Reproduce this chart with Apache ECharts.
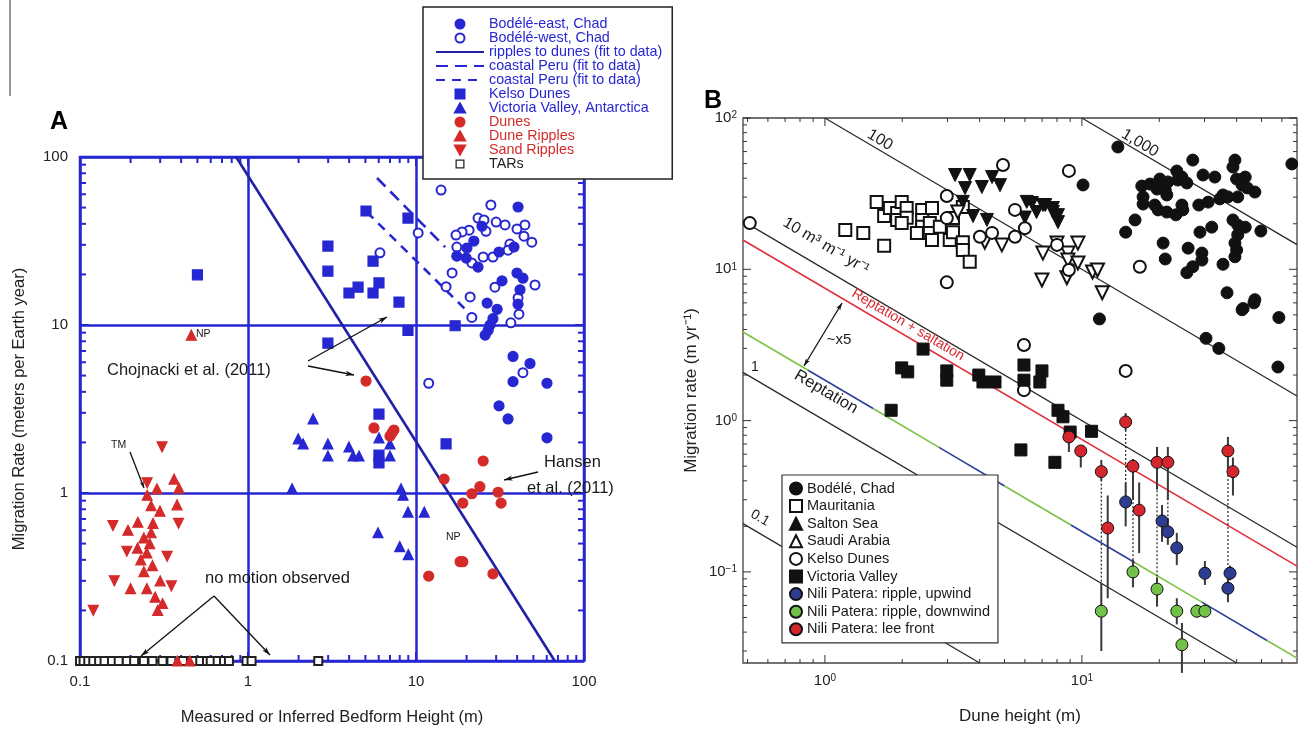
<!DOCTYPE html>
<html>
<head>
<meta charset="utf-8">
<script src="https://cdn.jsdelivr.net/npm/echarts@6/dist/echarts.min.js"></script>
<style>
html,body{margin:0;padding:0;background:#fff}
#main{width:1298px;height:729px}
</style>
</head>
<body>
<div id="main"></div>
<script>
// ---------- panel A (bedform height vs migration rate) ----------
const bodeleEast = [[40.5,50.4],[24.7,38.7],[22.1,31.6],[20.1,28.7],[17.5,25.7],[19.9,25.0],[23.4,22.1],[31.2,27.2],[38.3,29.1],[39.9,20.4],[43.3,19.0],[32.5,18.3],[41.6,16.2],[40.5,13.3],[26.5,13.5],[30.4,12.4],[28.7,10.9],[27.6,10.0],[26.9,9.3],[25.8,8.7],[37.8,6.5],[47.7,5.9],[37.8,4.6],[60.2,4.5],[31.2,3.3],[35.3,2.76],[60.2,2.13]];
const bodeleWest = [[14.1,63.6],[27.9,51.8],[23.4,43.3],[25.4,42.2],[30.0,41.0],[33.9,39.4],[44.5,39.4],[39.9,37.3],[20.7,36.7],[18.8,35.8],[26.1,36.1],[17.3,34.3],[43.9,33.8],[48.9,31.1],[36.2,30.3],[17.5,29.1],[35.3,27.9],[25.1,25.4],[28.7,25.4],[21.5,23.4],[10.3,35.3],[6.1,26.9],[16.4,20.4],[15.1,16.9],[21.0,14.7],[29.5,16.8],[40.5,14.5],[51.1,17.3],[21.5,11.1],[41.0,11.6],[36.7,10.3],[43.3,5.2],[11.9,4.5]];
const kelsoA = [[0.50,19.9],[2.99,29.5],[2.99,20.9],[2.99,7.8],[5.04,47.7],[8.96,43.3],[5.55,24.0],[3.99,15.5],[4.52,16.8],[5.55,15.5],[6.02,17.8],[7.92,13.7],[8.96,9.3],[17.1,9.9],[6.02,2.95],[6.02,1.51],[6.02,1.68],[15.1,1.96]];
const victoriaA = [[2.44,2.76],[1.99,2.10],[2.13,1.96],[2.99,1.96],[2.99,1.66],[1.83,1.06],[3.99,1.88],[4.22,1.66],[4.58,1.66],[6.02,2.13],[7.0,1.96],[7.0,1.66],[6.02,1.66],[8.14,1.06],[8.37,0.97],[8.96,0.77],[11.2,0.77],[5.94,0.58],[8.0,0.48],[9.0,0.43]];
const dunesA = [[5.04,4.64],[5.62,2.44],[7.0,2.18],[7.39,2.37],[7.2,2.28],[14.7,1.21],[25.1,1.55],[24.0,1.09],[21.5,0.99],[19.0,0.87],[30.8,1.01],[32.1,0.87],[11.9,0.32],[18.3,0.39],[19.0,0.39],[28.7,0.33]];
const duneRipples = [[0.46,8.7],[0.363,1.21],[0.388,1.07],[0.287,1.06],[0.251,0.97],[0.265,0.84],[0.299,0.78],[0.378,0.85],[0.221,0.67],[0.193,0.60],[0.272,0.66],[0.265,0.58],[0.24,0.54],[0.26,0.50],[0.22,0.47],[0.25,0.44],[0.23,0.40],[0.27,0.37],[0.24,0.34],[0.30,0.30],[0.25,0.27],[0.28,0.24],[0.31,0.22],[0.20,0.27],[0.29,0.20],[0.45,0.1],[0.38,0.1]];
const sandRipples = [[0.308,1.88],[0.157,0.64],[0.386,0.66],[0.251,1.15],[0.19,0.45],[0.33,0.42],[0.12,0.20],[0.16,0.30],[0.35,0.28]];
const tars = [[0.1,0.1],[0.105,0.1],[0.112,0.1],[0.12,0.1],[0.13,0.1],[0.14,0.1],[0.155,0.1],[0.17,0.1],[0.19,0.1],[0.21,0.1],[0.24,0.1],[0.27,0.1],[0.31,0.1],[0.35,0.1],[0.41,0.1],[0.47,0.1],[0.52,0.1],[0.57,0.1],[0.6,0.1],[0.66,0.1],[0.72,0.1],[0.77,0.1],[0.98,0.1],[1.05,0.1],[2.62,0.1]];
const ripplesToDunes = [[0.85,100],[67,0.1]];
const peruFit1 = [[5.86,75],[14.9,29.1]];
const peruFit2 = [[5.1,47],[21.8,11.2]];

// ---------- panel B (dune height vs migration rate) ----------
const bodeleB = [[13.8,64.3],[27.0,52.7],[39.4,52.7],[38.7,47.4],[23.4,44.6],[29.6,42.0],[32.9,40.7],[24.5,40.7],[25.6,37.2],[23.6,38.9],[40.0,39.5],[43.2,40.7],[42.0,36.1],[47.1,32.4],[44.0,34.5],[17.1,35.5],[18.4,36.6],[20.1,39.5],[21.6,37.8],[21.1,33.4],[19.6,33.9],[21.4,31.0],[17.3,30.1],[17.3,27.0],[19.2,26.6],[19.8,24.7],[21.4,23.9],[23.2,22.9],[24.7,24.7],[24.5,26.6],[28.5,26.6],[31.0,27.8],[34.4,29.2],[37.0,30.1],[40.4,30.1],[35.4,31.0],[16.1,21.2],[14.8,17.6],[32.0,19.0],[28.8,17.6],[38.7,21.2],[40.4,19.6],[43.2,19.0],[40.4,16.9],[49.7,17.9],[20.7,14.9],[39.4,14.9],[40.0,13.4],[39.4,12.1],[25.9,13.8],[29.3,12.8],[29.3,11.5],[21.1,11.7],[27.0,10.4],[25.6,9.5],[35.4,10.8],[36.7,7.0],[47.1,6.3],[42.4,5.5],[10.1,36.1],[11.7,4.7],[42.0,5.4],[46.7,6.0],[58.4,4.8],[30.4,3.5],[34.1,3.0],[57.9,2.26],[65.6,49.7]];
const mauritania = [[1.59,27.9],[1.20,18.2],[1.41,17.4],[1.70,14.3],[1.70,22.5],[1.79,25.4],[1.91,23.6],[1.99,27.9],[2.08,25.4],[1.91,21.2],[2.08,21.9],[1.99,20.2],[2.39,24.7],[2.61,25.4],[2.39,21.2],[2.39,19.1],[2.56,20.2],[2.28,17.4],[2.56,17.4],[2.80,19.1],[2.61,15.6],[3.06,15.6],[3.15,17.6],[3.44,15.1],[3.44,13.4],[3.66,11.2],[3.44,25.8],[3.15,21.8]];
const saltonSea = [[3.21,42.0],[3.66,42.0],[4.47,40.7],[3.51,34.4],[4.08,35.0],[3.44,27.9],[3.77,22.5],[4.27,21.2],[4.80,36.0],[6.39,27.4],[6.1,27.9],[7.05,26.6],[6.66,23.9],[6.0,22.0],[7.71,23.9],[8.07,22.8],[8.07,20.5],[7.71,25.4],[7.2,26.6]];
const saudiArabia = [[4.88,14.5],[7.05,12.8],[8.0,14.9],[8.82,12.8],[9.65,14.9],[8.82,11.5],[9.65,11.0],[6.99,8.5],[8.74,8.8],[11.0,9.6],[11.5,9.9],[12.0,7.0],[3.29,23.9],[4.19,15.1]];
const kelsoB = [[0.51,20.2],[2.98,30.5],[2.98,8.2],[2.98,21.8],[4.01,16.4],[4.47,17.4],[4.93,48.9],[8.9,44.7],[5.49,24.7],[6.0,18.7],[5.49,16.4],[8.0,14.5],[8.9,9.9],[16.8,10.4],[5.95,3.16],[5.95,1.59],[14.8,2.13]];
const victoriaB = [[2.41,2.97],[1.99,2.23],[2.10,2.10],[2.98,2.13],[2.98,1.85],[3.97,2.0],[4.12,1.80],[4.59,1.80],[1.81,1.17],[5.95,2.33],[5.95,1.85],[6.99,2.13],[6.86,1.80],[8.07,1.17],[8.44,1.06],[9.0,0.84],[10.9,0.85],[5.79,0.64],[7.85,0.53]];
// Nili Patera: [height, rate, low, high]
const niliUpwind = [[14.8,0.29,0.20,0.39],[20.5,0.217,0.158,0.277],[21.6,0.184,0.151,0.227],[23.4,0.144,0.111,0.181],[30.1,0.098,0.082,0.118],[37.7,0.098,0.088,0.11],[37.0,0.078,0.063,0.092]];
const niliDownwind = [[11.9,0.055,0.030,0.085],[15.8,0.10,0.079,0.12],[19.6,0.077,0.059,0.092],[23.4,0.055,0.045,0.067],[28.0,0.055,0.050,0.061],[30.1,0.055,0.050,0.061],[24.5,0.033,0.0215,0.046]];
const niliLee = [[14.8,0.98,0.86,1.12],[8.9,0.78,0.62,0.87],[9.9,0.63,0.49,0.67],[11.9,0.46,0.40,0.55],[15.8,0.50,0.30,0.557],[19.6,0.53,0.35,0.67],[21.6,0.53,0.30,0.67],[37.0,0.63,0.49,0.78],[38.7,0.46,0.32,0.57],[12.6,0.195,0.067,0.32],[16.7,0.256,0.133,0.39]];
// dotted links between the Nili Patera estimates: [height, top, bottom]
const niliLinks = [[11.9,0.46,0.055],[14.8,0.98,0.29],[15.8,0.50,0.10],[19.6,0.53,0.077],[21.6,0.53,0.184],[37.0,0.63,0.078]];
// constant-flux lines q (m3 m-1 yr-1), rate = q / H
const fluxLines = [0.1, 1, 10, 100, 1000];
const qSaltation = 7.5;
const qReptation = 1.85;
const reptBreaks = [0.86, 1.54, 2.78, 5.0, 9.06, 16.1, 29.3, 52.5];

const rangeAx = [0.1, 100], rangeAy = [0.1, 100];
const rangeBx = [0.48, 68.7], rangeBy = [0.025, 100];

const BLUE = '#2626d2', RED = '#d42a2a', FONT = 'Liberation Sans, Arial, Helvetica, sans-serif';

function minorVals(lo, hi) {
  const out = [];
  for (let e = Math.floor(Math.log10(lo)); e <= Math.ceil(Math.log10(hi)); e++) {
    for (let m = 2; m <= 9; m++) {
      const v = m * Math.pow(10, e);
      if (v > lo * 1.0001 && v < hi * 0.9999) out.push(v);
    }
  }
  return out;
}
function majorVals(lo, hi) {
  const out = [];
  for (let e = Math.ceil(Math.log10(lo) - 1e-9); e <= Math.floor(Math.log10(hi) + 1e-9); e++) out.push(Math.pow(10, e));
  return out;
}

// inward ticks on all four sides of a log-log grid
function tickSeries(gi, xr, yr, color, lw, majLen, minLen) {
  const xs = minorVals(xr[0], xr[1]).map(v => [v, minLen]).concat(majorVals(xr[0], xr[1]).map(v => [v, majLen]));
  const ys = minorVals(yr[0], yr[1]).map(v => [minLen, v]).concat(majorVals(yr[0], yr[1]).map(v => [majLen, v]));
  const st = { stroke: color, lineWidth: lw };
  return [{
    type: 'custom', xAxisIndex: gi, yAxisIndex: gi, silent: true, clip: false, z: 3,
    data: xs,
    renderItem: (p, api) => {
      const v = api.value(0), len = api.value(1);
      const b = api.coord([v, yr[0]]), t = api.coord([v, yr[1]]);
      return { type: 'group', children: [
        { type: 'line', shape: { x1: b[0], y1: b[1], x2: b[0], y2: b[1] - len }, style: st },
        { type: 'line', shape: { x1: t[0], y1: t[1], x2: t[0], y2: t[1] + len }, style: st }
      ] };
    }
  }, {
    type: 'custom', xAxisIndex: gi, yAxisIndex: gi, silent: true, clip: false, z: 3,
    data: ys,
    renderItem: (p, api) => {
      const len = api.value(0), v = api.value(1);
      const l = api.coord([xr[0], v]), r = api.coord([xr[1], v]);
      return { type: 'group', children: [
        { type: 'line', shape: { x1: l[0], y1: l[1], x2: l[0] + len, y2: l[1] }, style: st },
        { type: 'line', shape: { x1: r[0], y1: r[1], x2: r[0] - len, y2: r[1] }, style: st }
      ] };
    }
  }];
}

function scatterA(name, data, symbol, color, size, extra) {
  return Object.assign({
    name, type: 'scatter', xAxisIndex: 0, yAxisIndex: 0, data, symbol, symbolSize: size, clip: false, z: 4,
    itemStyle: { color, opacity: 1, borderColor: color, borderWidth: 1.2 }
  }, extra || {});
}
function scatterB(name, data, symbol, color, size, extra) {
  return Object.assign({
    name, type: 'scatter', xAxisIndex: 1, yAxisIndex: 1, data, symbol, symbolSize: size, clip: false, z: 4,
    itemStyle: { color, opacity: 1, borderColor: '#111', borderWidth: 1 }
  }, extra || {});
}
function lineB(q, color, x0, x1, width) {
  return {
    type: 'line', xAxisIndex: 1, yAxisIndex: 1, symbol: 'none', silent: true, z: 2,
    data: [[x0, q / x0], [x1, q / x1]],
    lineStyle: { color, width: width || 1.3 }
  };
}
function nili(name, pts, color) {
  return [{
    type: 'custom', xAxisIndex: 1, yAxisIndex: 1, silent: true, clip: false, z: 3,
    data: pts.map(p => [p[0], p[1], p[2], p[3]]),
    renderItem: (p, api) => {
      const a = api.coord([api.value(0), api.value(2)]), b = api.coord([api.value(0), api.value(3)]);
      return { type: 'line', shape: { x1: a[0], y1: a[1], x2: b[0], y2: b[1] }, style: { stroke: '#3a3a3a', lineWidth: 2 } };
    }
  }, scatterB(name, pts.map(p => [p[0], p[1]]), 'circle', color, 12, { z: 5 })];
}

const series = [];
// panel A
series.push(...tickSeries(0, rangeAx, rangeAy, BLUE, 2, 9, 6));
series.push({ name: 'ripples to dunes (fit to data)', type: 'line', xAxisIndex: 0, yAxisIndex: 0, symbol: 'none', data: ripplesToDunes, itemStyle: { color: '#2121a6' }, lineStyle: { color: '#2121a6', width: 2.6 }, z: 3 });
series.push({ name: 'coastal Peru (fit to data)', type: 'line', xAxisIndex: 0, yAxisIndex: 0, symbol: 'none', data: peruFit1, itemStyle: { color: BLUE }, lineStyle: { color: BLUE, width: 2.6, type: [12, 7] }, z: 3 });
series.push({ name: 'coastal Peru (fit to data) ', type: 'line', xAxisIndex: 0, yAxisIndex: 0, symbol: 'none', data: peruFit2, itemStyle: { color: BLUE }, lineStyle: { color: BLUE, width: 2.6, type: [9, 7] }, z: 3 });
series.push(scatterA('TARs', tars, 'emptyRect', '#222', 8, { itemStyle: { color: '#222', opacity: 1, borderColor: '#222', borderWidth: 1.3 } }));
series.push(scatterA('Bodélé-west, Chad', bodeleWest, 'emptyCircle', BLUE, 9, { itemStyle: { color: BLUE, opacity: 1, borderColor: BLUE, borderWidth: 1.3 } }));
series.push(scatterA('Bodélé-east, Chad', bodeleEast, 'circle', BLUE, 10));
series.push(scatterA('Kelso Dunes', kelsoA, 'rect', BLUE, 10));
series.push(scatterA('Victoria Valley, Antarctica', victoriaA, 'triangle', BLUE, 10));
series.push(scatterA('Dunes', dunesA, 'circle', RED, 10));
series.push(scatterA('Dune Ripples', duneRipples, 'triangle', RED, 10));
series.push(scatterA('Sand Ripples', sandRipples, 'triangle', RED, 10, { symbolRotate: 180 }));

// panel B
series.push(...tickSeries(1, rangeBx, rangeBy, '#333', 1, 8, 4));
fluxLines.forEach(q => {
  const x0 = Math.max(rangeBx[0], q / rangeBy[1]);
  const x1 = Math.min(rangeBx[1], q / rangeBy[0]);
  series.push(lineB(q, '#2a2a2a', x0, x1, 1.3));
});
series.push(lineB(qSaltation, '#e0303c', rangeBx[0], rangeBx[1], 1.6));
const bounds = [rangeBx[0]].concat(reptBreaks, [rangeBx[1]]);
for (let i = 0; i < bounds.length - 1; i++) {
  series.push(lineB(qReptation, i % 2 === 0 ? '#7cc243' : '#2e3f99', bounds[i], bounds[i + 1], 1.6));
}
series.push({
  type: 'custom', xAxisIndex: 1, yAxisIndex: 1, silent: true, clip: false, z: 3,
  data: niliLinks,
  renderItem: (p, api) => {
    const a = api.coord([api.value(0), api.value(1)]), b = api.coord([api.value(0), api.value(2)]);
    return { type: 'line', shape: { x1: a[0], y1: a[1], x2: b[0], y2: b[1] }, style: { stroke: '#222', lineWidth: 1.2, lineDash: [2, 2] } };
  }
});
series.push(scatterB('Bodélé, Chad', bodeleB, 'circle', '#111', 12));
series.push(scatterB('Mauritania', mauritania, 'emptyRect', '#111', 12, { itemStyle: { color: '#111', opacity: 1, borderColor: '#111', borderWidth: 1 } }));
series.push(scatterB('Salton Sea', saltonSea, 'triangle', '#111', 13, { symbolRotate: 180 }));
series.push(scatterB('Saudi Arabia', saudiArabia, 'emptyTriangle', '#111', 13, { symbolRotate: 180, itemStyle: { color: '#111', opacity: 1, borderColor: '#111', borderWidth: 1 } }));
series.push(scatterB('Kelso Dunes\u200b', kelsoB, 'emptyCircle', '#111', 12, { itemStyle: { color: '#111', opacity: 1, borderColor: '#111', borderWidth: 1 } }));
series.push(scatterB('Victoria Valley', victoriaB, 'rect', '#111', 12));
series.push(...nili('Nili Patera: ripple, upwind', niliUpwind, '#2c3d92'));
series.push(...nili('Nili Patera: ripple, downwind', niliDownwind, '#72c148'));
series.push(...nili('Nili Patera: lee front', niliLee, '#d6262d'));

// legend icons as paths so they keep their aspect inside the wide item box
const ICON_RECT = 'path://M0,0H10V10H0Z';
const ICON_UP = 'path://M5,0L10,9L0,9Z';
const ICON_DOWN = 'path://M0,0L10,0L5,9Z';
const ICON_OPENRECT = 'path://M0,0H10V1.4H0Z M0,8.6H10V10H0Z M0,0H1.4V10H0Z M8.6,0H10V10H8.6Z';
const legendA = [
  ['Bodélé-east, Chad', BLUE, 'circle'], ['Bodélé-west, Chad', BLUE, 'emptyCircle'], ['ripples to dunes (fit to data)', BLUE, null],
  ['coastal Peru (fit to data)', BLUE, null], ['coastal Peru (fit to data) ', BLUE, null], ['Kelso Dunes', BLUE, ICON_RECT],
  ['Victoria Valley, Antarctica', BLUE, ICON_UP], ['Dunes', RED, 'circle'], ['Dune Ripples', RED, ICON_UP],
  ['Sand Ripples', RED, ICON_DOWN], ['TARs', '#222', ICON_OPENRECT]
];
const legendB = ['Bodélé, Chad', 'Mauritania', 'Salton Sea', 'Saudi Arabia', 'Kelso Dunes\u200b', 'Victoria Valley',
  'Nili Patera: ripple, upwind', 'Nili Patera: ripple, downwind', 'Nili Patera: lee front'];

// annotation helpers (pixel space)
function arrow(x1, y1, x2, y2, head, color, both) {
  const c = color || '#111', h = head || 9;
  const out = [{ type: 'line', shape: { x1, y1, x2, y2 }, style: { stroke: c, lineWidth: 1.3 }, z: 10 }];
  const mk = (ax, ay, bx, by) => {
    const a = Math.atan2(by - ay, bx - ax);
    return { type: 'polygon', z: 10, shape: { points: [[bx, by],
      [bx - h * Math.cos(a - 0.3), by - h * Math.sin(a - 0.3)],
      [bx - h * 0.7 * Math.cos(a), by - h * 0.7 * Math.sin(a)],
      [bx - h * Math.cos(a + 0.3), by - h * Math.sin(a + 0.3)]] }, style: { fill: c } };
  };
  out.push(mk(x1, y1, x2, y2));
  if (both) out.push(mk(x2, y2, x1, y1));
  return out;
}
function txt(text, x, y, size, opts) {
  return Object.assign({ type: 'text', x, y, z: 10, style: Object.assign({ text, fontSize: size, fontFamily: FONT, fill: '#1a1a1a', align: 'left', verticalAlign: 'middle' }, (opts && opts.style) || {}) }, opts && opts.rot !== undefined ? { rotation: opts.rot } : {});
}
const ROT = -Math.atan(151.3 / 257);
const supRich = { b: { fontSize: 15, fontFamily: FONT, color: '#222' }, s: { fontSize: 10, fontFamily: FONT, color: '#222', verticalAlign: 'top', lineHeight: 10, padding: [0, 0, 6, 0] } };
const powLabel = v => '{b|10}{s|' + String(Math.round(Math.log10(v))).replace('-', '\u2212') + '}';

const option = {
  backgroundColor: '#fff',
  animation: false,
  textStyle: { fontFamily: FONT },
  grid: [
    { left: 80, top: 157, width: 504, height: 504, show: true, borderColor: BLUE, borderWidth: 2.5, backgroundColor: 'transparent', outerBoundsMode: 'none' },
    { left: 743, top: 118, width: 554, height: 545, show: true, borderColor: '#444', borderWidth: 1.3, backgroundColor: 'transparent', outerBoundsMode: 'none' }
  ],
  xAxis: [
    { type: 'log', gridIndex: 0, min: rangeAx[0], max: rangeAx[1], logBase: 10,
      name: 'Measured or Inferred Bedform Height (m)', nameLocation: 'middle', nameGap: 48,
      nameTextStyle: { fontSize: 16.5, color: '#222', fontFamily: FONT },
      axisLine: { show: false }, axisTick: { show: false },
      axisLabel: { fontSize: 15, color: '#222', margin: 13, fontFamily: FONT },
      splitLine: { show: true, lineStyle: { color: BLUE, width: 2.5 } } },
    { type: 'log', gridIndex: 1, min: rangeBx[0], max: rangeBx[1], logBase: 10,
      name: 'Dune height (m)', nameLocation: 'middle', nameGap: 45,
      nameTextStyle: { fontSize: 17, color: '#222', fontFamily: FONT },
      axisLine: { show: false }, axisTick: { show: false },
      axisLabel: { margin: 10, showMinLabel: false, showMaxLabel: false, formatter: powLabel, rich: supRich },
      splitLine: { show: false } }
  ],
  yAxis: [
    { type: 'log', gridIndex: 0, min: rangeAy[0], max: rangeAy[1], logBase: 10,
      name: 'Migration Rate (meters per Earth year)', nameLocation: 'middle', nameGap: 52,
      nameTextStyle: { fontSize: 16.5, color: '#222', fontFamily: FONT },
      axisLine: { show: false }, axisTick: { show: false },
      axisLabel: { fontSize: 15, color: '#222', margin: 12, fontFamily: FONT },
      splitLine: { show: true, lineStyle: { color: BLUE, width: 2.5 } } },
    { type: 'log', gridIndex: 1, min: rangeBy[0], max: rangeBy[1], logBase: 10,
      name: 'Migration rate (m yr\u207b\u00b9)', nameLocation: 'middle', nameGap: 43,
      nameTextStyle: { fontSize: 17, color: '#222', fontFamily: FONT },
      axisLine: { show: false }, axisTick: { show: false },
      axisLabel: { margin: 6, showMinLabel: false, formatter: powLabel, rich: supRich },
      splitLine: { show: false } }
  ],
  legend: [
    { left: 423, top: 7, orient: 'vertical', itemWidth: 48, itemHeight: 9, itemGap: 0,
      padding: [10, 10, 8, 12], borderColor: '#222', borderWidth: 1.5, backgroundColor: '#fff',
      selectedMode: false, z: 8, symbolKeepAspect: true,
      textStyle: { fontSize: 14.3, fontFamily: FONT, lineHeight: 12 },
      data: legendA.map(d => d[2]
        ? { name: d[0], icon: d[2], textStyle: { color: d[1] }, itemStyle: d[0] === 'TARs' ? { borderWidth: 0 } : undefined }
        : { name: d[0], itemStyle: { opacity: 0 }, textStyle: { color: d[1] } }) },
    { left: 782, top: 475, orient: 'vertical', itemWidth: 12, itemHeight: 12, itemGap: 2.6,
      padding: [6, 8, 6, 7], borderColor: '#333', borderWidth: 1.2, backgroundColor: '#fff',
      selectedMode: false, z: 8, symbolKeepAspect: true,
      textStyle: { fontSize: 14.5, fontFamily: FONT, color: '#1a1a1a', lineHeight: 14 },
      data: legendB }
  ],
  graphic: [
    { type: 'line', shape: { x1: 10, y1: 0, x2: 10, y2: 96 }, style: { stroke: '#333', lineWidth: 1 } },
    txt('A', 50, 122, 25, { style: { fontWeight: 'bold', fill: '#000' } }),
    txt('B', 704, 101, 25, { style: { fontWeight: 'bold', fill: '#000' } }),
    txt('Chojnacki et al. (2011)', 107, 370, 16.5),
    ...arrow(308, 361, 387, 317),
    ...arrow(308, 366, 354, 375),
    txt('Hansen', 544, 462, 16.5),
    txt('et al. (2011)', 527, 488, 16.5),
    ...arrow(538, 472, 504, 480),
    txt('no motion observed', 205, 578, 16.5),
    ...arrow(214, 596, 141, 656),
    ...arrow(214, 596, 270, 655),
    txt('TM', 111, 445, 10.5),
    ...arrow(130, 452, 144, 488, 7),
    txt('NP', 196, 334, 10.5),
    txt('NP', 446, 537, 10.5),
    // panel B annotations
    txt('100', 880, 140, 16, { rot: ROT, style: { align: 'center' } }),
    txt('1,000', 1140, 143, 16, { rot: ROT, style: { align: 'center' } }),
    txt('10 m\u00b3 m\u207b\u00b9 yr\u207b\u00b9', 826, 246, 16, { rot: ROT, style: { align: 'center' } }),
    txt('Reptation + saltation', 908, 325, 14, { rot: ROT, style: { align: 'center', fill: '#d8262f' } }),
    txt('Reptation', 826, 392, 16.5, { rot: ROT, style: { align: 'center' } }),
    txt('~x5', 839, 340, 15, { style: { align: 'center' } }),
    ...arrow(842, 303, 804, 366, 8, '#111', true),
    txt('1', 755, 367, 14, { style: { align: 'center' } }),
    txt('0.1', 760, 518, 14, { rot: ROT, style: { align: 'center' } })
  ],
  series
};

const chart = echarts.init(document.getElementById('main'));
chart.setOption(option);
</script>
</body>
</html>
